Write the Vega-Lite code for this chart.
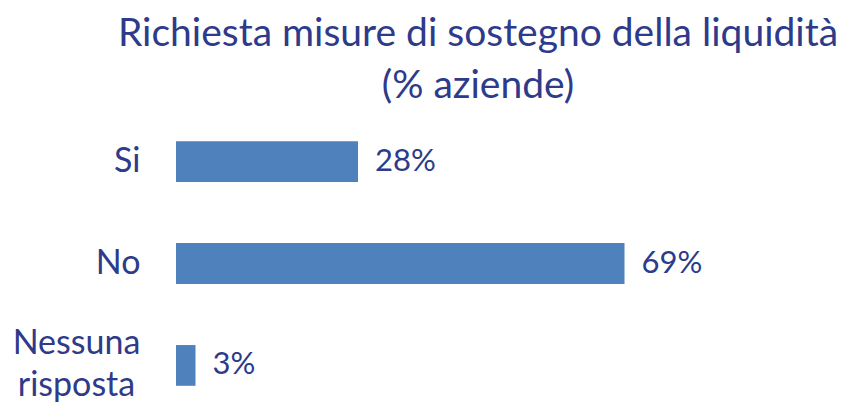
{
  "$schema": "https://vega.github.io/schema/vega-lite/v6.json",
  "width": 650,
  "height": 265,
  "autosize": "none",
  "padding": {"left": 176, "top": 131, "right": 28, "bottom": 10},
  "background": "white",
  "title": {
    "text": ["Richiesta misure di sostegno della liquidità", "(% aziende)"],
    "font": "Lato",
    "fontSize": 39,
    "fontWeight": "normal",
    "color": "#2E3A8A",
    "anchor": "middle",
    "dx": -23,
    "offset": 25,
    "lineHeight": 52
  },
  "data": {
    "values": [
      {"risposta": "Si", "quota": 0.28},
      {"risposta": "No", "quota": 0.69},
      {"risposta": "Nessuna risposta", "quota": 0.03}
    ]
  },
  "encoding": {
    "y": {
      "field": "risposta",
      "type": "nominal",
      "sort": null,
      "scale": {"paddingInner": 0.6, "paddingOuter": 0.1},
      "axis": {
        "title": null,
        "domain": false,
        "ticks": false,
        "labelFont": "Lato",
        "labelFontSize": 34,
        "labelColor": "#2E3A8A",
        "labelLineHeight": 42,
        "labelExpr": "datum.value == 'Nessuna risposta' ? ['Nessuna', 'risposta'] : datum.value",
        "labelAlign": {"condition": {"test": "datum.value == 'Nessuna risposta'", "value": "center"}, "value": "right"},
        "labelPadding": {"condition": {"test": "datum.value == 'Nessuna risposta'", "value": 100}, "value": 36},
        "labelOffset": {"condition": {"test": "datum.value == 'Nessuna risposta'", "value": -21}, "value": 0}
      }
    },
    "x": {
      "field": "quota",
      "type": "quantitative",
      "scale": {"domain": [0, 1]},
      "axis": null
    }
  },
  "layer": [
    {"mark": {"type": "bar", "color": "#4F81BD"}},
    {
      "mark": {"type": "text", "align": "left", "baseline": "middle", "dx": 17, "font": "Lato", "fontSize": 31, "color": "#2E3A8A"},
      "encoding": {"text": {"field": "quota", "type": "quantitative", "format": ".0%"}}
    }
  ],
  "config": {"view": {"stroke": null}}
}
